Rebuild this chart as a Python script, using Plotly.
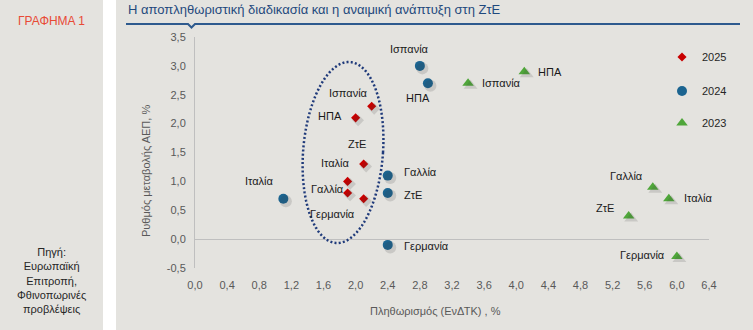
import numpy as np
import plotly.graph_objects as go

# ---- data: inflation (HICP, %) vs real GDP growth (%) ----
countries_2025 = ["Ισπανία", "ΗΠΑ", "ΖτΕ", "Ιταλία", "Γαλλία", "Γερμανία"]
inflation_2025 = [2.2, 2.0, 2.1, 1.9, 1.9, 2.1]
gdp_2025 = [2.3, 2.1, 1.3, 1.0, 0.8, 0.7]

countries_2024 = ["Ισπανία", "ΗΠΑ", "Γαλλία", "ΖτΕ", "Γερμανία", "Ιταλία"]
inflation_2024 = [2.8, 2.9, 2.4, 2.4, 2.4, 1.1]
gdp_2024 = [3.0, 2.7, 1.1, 0.8, -0.1, 0.7]

countries_2023 = ["Ισπανία", "ΗΠΑ", "Γαλλία", "Ιταλία", "ΖτΕ", "Γερμανία"]
inflation_2023 = [3.4, 4.1, 5.7, 5.9, 5.4, 6.0]
gdp_2023 = [2.7, 2.9, 0.9, 0.7, 0.4, -0.3]

x_tick_values = [0.0, 0.4, 0.8, 1.2, 1.6, 2.0, 2.4, 2.8, 3.2, 3.6, 4.0, 4.4, 4.8, 5.2, 5.6, 6.0, 6.4]
x_tick_labels = ["0,0", "0,4", "0,8", "1,2", "1,6", "2,0", "2,4", "2,8", "3,2", "3,6",
                 "4,0", "4,4", "4,8", "5,2", "5,6", "6,0", "6,4"]
y_tick_values = [-0.5, 0.0, 0.5, 1.0, 1.5, 2.0, 2.5, 3.0, 3.5]
y_tick_labels = ["-0,5", "0,0", "0,5", "1,0", "1,5", "2,0", "2,5", "3,0", "3,5"]

# ---- label placement (pixel shifts from each marker) ----
label_pos_2025 = {
    "Ισπανία": (-23, 13, "center"), "ΗΠΑ": (-26, 2, "center"), "ΖτΕ": (-7, 20, "center"),
    "Ιταλία": (-12, 18, "center"), "Γαλλία": (-20, 4, "center"), "Γερμανία": (-31, -15, "center"),
}
label_pos_2024 = {
    "Ισπανία": (-10, 17, "center"), "ΗΠΑ": (-10, -15, "center"), "Γαλλία": (14, 4, "left"),
    "ΖτΕ": (14, -2, "left"), "Γερμανία": (14, -1, "left"), "Ιταλία": (-24, 18, "center"),
}
label_pos_2023 = {
    "Ισπανία": (12, 0, "left"), "ΗΠΑ": (12, 0, "left"), "Γαλλία": (-26, 11, "center"),
    "Ιταλία": (13, 1, "left"), "ΖτΕ": (-24, 8, "center"), "Γερμανία": (-34, 1, "center"),
}

FONT = "Liberation Sans, Arial, sans-serif"
PANEL = "#E4E3DF"
RED = "#C80000"
BLUE = "#1B6490"
GREEN = "#4FA63A"

# plot area in pixels: x 195..709, y 37..268
L, R, T, B = 195, 709, 37, 268
W, H = 753, 330
X_RANGE = [0, 6.4]
Y_RANGE = [-0.5, 3.5]
SHADOW_PX = 2.5  # drop-shadow offset


def px_x(p):
    return (p - L) / (R - L)


def px_y(p):
    return (B - p) / (B - T)


fig = go.Figure()

series = [
    ("2025", inflation_2025, gdp_2025, dict(symbol="diamond", size=7, color=RED), "legend", label_pos_2025, countries_2025),
    ("2024", inflation_2024, gdp_2024, dict(symbol="circle", size=10, color=BLUE), "legend2", label_pos_2024, countries_2024),
    ("2023", inflation_2023, gdp_2023, dict(symbol="triangle-up", size=10, color=GREEN), "legend3", label_pos_2023, countries_2023),
]

# soft drop shadows, drawn on an overlay axis pair shifted a few pixels right/down
for name, xs, ys, marker, leg, pos, names in series:
    fig.add_trace(go.Scatter(
        x=xs, y=ys, mode="markers", xaxis="x2", yaxis="y2", showlegend=False, hoverinfo="skip",
        marker=dict(symbol=marker["symbol"], size=marker["size"] + 2, color="rgba(60,60,60,0.16)"),
    ))

annotations = []
for name, xs, ys, marker, leg, pos, names in series:
    fig.add_trace(go.Scatter(
        x=xs, y=ys, mode="markers", name=name, marker=marker,
        legend=leg, hoverinfo="text", text=names,
    ))
    for cx, cy, cname in zip(xs, ys, names):
        dx, dy, anchor = pos[cname]
        annotations.append(dict(
            x=cx, y=cy, xref="x", yref="y", text=cname, showarrow=False,
            xshift=dx, yshift=dy, xanchor=anchor, yanchor="middle",
            font=dict(family=FONT, size=11, color="#1A1A1A"),
        ))

# dotted ellipse around the 2025 cluster (slightly sheared)
t = np.linspace(0, 2 * np.pi, 181)
ecx, ecy, ea, eb, shear = 1.843, 1.50, 0.498, 1.567, 0.072
ex = ecx + ea * np.cos(t) + shear * np.sin(t)
ey = ecy + eb * np.sin(t)
ell_path = "M " + " L ".join(f"{a:.4f},{b:.4f}" for a, b in zip(ex, ey)) + " Z"

shapes = [
    # grey panels
    dict(type="rect", xref="paper", yref="paper", x0=px_x(0), x1=px_x(103), y0=px_y(W), y1=px_y(0),
         fillcolor=PANEL, line=dict(width=0), layer="below"),
    dict(type="rect", xref="paper", yref="paper", x0=px_x(116), x1=px_x(W + 5), y0=px_y(W), y1=px_y(0),
         fillcolor=PANEL, line=dict(width=0), layer="below"),
    # title rule with notch
    dict(type="path", xref="paper", yref="paper",
         path=(f"M {px_x(126)},{px_y(24)} L {px_x(188)},{px_y(24)} L {px_x(191.5)},{px_y(27.5)} "
               f"L {px_x(195)},{px_y(24)} L {px_x(740)},{px_y(24)}"),
         line=dict(color="#2E5A8E", width=2)),
    dict(type="path", xref="x", yref="y", path=ell_path,
         line=dict(color="#1F3A7A", width=2.5, dash="2px,2.2px")),
]

annotations += [
    dict(xref="paper", yref="paper", x=px_x(126), y=px_y(9.5), xanchor="left", yanchor="middle",
         text="Η αποπληθωριστική διαδικασία και η αναιμική ανάπτυξη στη ΖτΕ", showarrow=False,
         font=dict(family=FONT, size=13, color="#1F497D")),
    dict(xref="paper", yref="paper", x=px_x(51), y=px_y(20.5), xanchor="center", yanchor="middle",
         text="ΓΡΑΦΗΜΑ 1", showarrow=False, font=dict(family=FONT, size=12, color="#E84A36")),
    dict(xref="paper", yref="paper", x=px_x(51), y=px_y(280), xanchor="center", yanchor="middle",
         text="Πηγή:<br>Ευρωπαϊκή<br>Επιτροπή,<br>Φθινοπωρινές<br>προβλέψεις", showarrow=False,
         font=dict(family=FONT, size=11, color="#262626")),
    dict(xref="paper", yref="paper", x=px_x(146), y=px_y(171), xanchor="center", yanchor="middle",
         text="Ρυθμός μεταβολής ΑΕΠ, %", textangle=-90, showarrow=False,
         font=dict(family=FONT, size=11, color="#595959")),
    dict(xref="paper", yref="paper", x=px_x(435), y=px_y(311), xanchor="center", yanchor="middle",
         text="Πληθωρισμός (ΕνΔΤΚ) , %", showarrow=False,
         font=dict(family=FONT, size=11, color="#595959")),
]

x_unit_px = (R - L) / (X_RANGE[1] - X_RANGE[0])
y_unit_px = (B - T) / (Y_RANGE[1] - Y_RANGE[0])
dxs = SHADOW_PX / x_unit_px
dys = SHADOW_PX / y_unit_px

leg_common = dict(bgcolor="rgba(0,0,0,0)", font=dict(family=FONT, size=11, color="#262626"),
                  xanchor="left", yanchor="middle", borderwidth=0, itemsizing="trace")
fig.update_layout(
    width=W, height=H, autosize=False,
    margin=dict(l=L, r=W - R, t=T, b=H - B, pad=0),
    paper_bgcolor="white", plot_bgcolor="rgba(0,0,0,0)",
    font=dict(family=FONT, size=11, color="#595959"),
    showlegend=True,
    legend=dict(x=px_x(662), y=px_y(57), **leg_common),
    legend2=dict(x=px_x(662), y=px_y(91), **leg_common),
    legend3=dict(x=px_x(662), y=px_y(123), **leg_common),
    xaxis=dict(range=X_RANGE, tickvals=x_tick_values, ticktext=x_tick_labels,
               showgrid=False, zeroline=False, showline=False,
               ticks="outside", ticklen=7, tickcolor="rgba(0,0,0,0)",
               tickfont=dict(family=FONT, size=11, color="#595959")),
    yaxis=dict(range=Y_RANGE, tickvals=y_tick_values, ticktext=y_tick_labels,
               showgrid=False, zeroline=True, zerolinecolor="#BFBFBF", zerolinewidth=1,
               showline=True, linecolor="#BFBFBF", linewidth=1,
               ticks="outside", ticklen=6, tickcolor="rgba(0,0,0,0)",
               tickfont=dict(family=FONT, size=11, color="#595959")),
    xaxis2=dict(range=[X_RANGE[0] - dxs, X_RANGE[1] - dxs], overlaying="x", visible=False),
    yaxis2=dict(range=[Y_RANGE[0] + dys, Y_RANGE[1] + dys], overlaying="y", visible=False),
    shapes=shapes,
    annotations=annotations,
)

fig.write_html("out.html")
